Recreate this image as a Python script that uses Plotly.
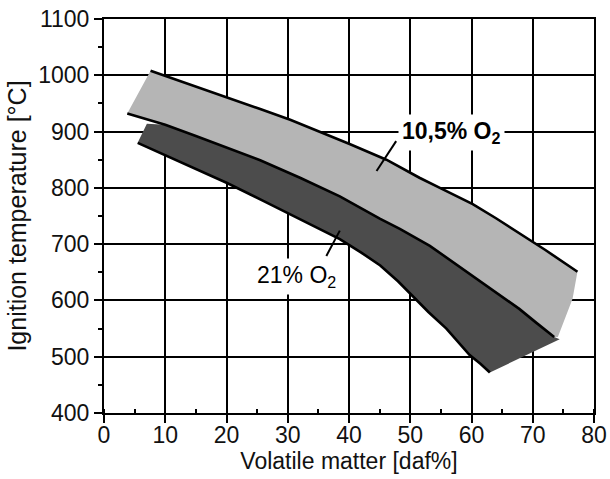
import plotly.graph_objects as go

# ---- data ----
# upper boundary of the 10,5% O2 band
upper105_x = [7.6, 14, 20, 25.5, 30.4, 35.3, 40.1, 46.1, 51.5, 55, 60.2, 64, 67.8, 72, 77.3]
upper105_y = [1008, 984, 961, 940, 921, 900, 878, 850, 818, 799, 771, 746, 720, 690, 651]
# right edge of the 10,5% band
light_edge_x = [76.5, 74.1]
light_edge_y = [603, 535]
# boundary between the two bands (lower 10,5% / upper 21%)
middle_x = [3.8, 10, 15, 22.2, 25.5, 32, 38.5, 45.1, 48.3, 53.2, 57, 61.3, 64.5, 67.8, 70.5, 73.5]
middle_y = [932, 912, 892, 862, 849, 818, 785, 745, 727, 697, 668, 636, 611, 585, 561, 535]
# upper-left corner of the 21% band and its right corner
dark_left_x = [7.0]
dark_left_y = [914]
dark_edge_x = [74.4]
dark_edge_y = [531]
# lower boundary of the 21% O2 band
lower21_x = [5.5, 12, 20, 26, 30, 34, 38.5, 42, 45.1, 48, 50.5, 53, 55.9, 58, 59.7, 61.5, 63]
lower21_y = [880, 848, 809, 777, 755, 733, 709, 685, 662, 634, 606, 579, 550, 524, 503, 487, 472]

# labels and their pointer lines
label105_text = "<b>10,5% O<sub>2</sub></b>"
label105_pos = (56.7, 899)
pointer105_x = [47.7, 44.5]
pointer105_y = [883, 830]
label21_text = "21% O<sub>2</sub>"
label21_pos = (31.4, 642)
pointer21_x = [38.5, 36.3]
pointer21_y = [724, 679]

x_ticks = [0, 10, 20, 30, 40, 50, 60, 70, 80]
y_ticks = [400, 500, 600, 700, 800, 900, 1000, 1100]

LIGHT = "#b5b5b5"
DARK = "#4c4c4c"
FONT = "Liberation Sans, Arial, sans-serif"

fig = go.Figure()

# dark (21% O2) band polygon
dm = [(x, y) for x, y in zip(middle_x, middle_y) if x > dark_left_x[0]]
dark_px = dark_left_x + [p[0] for p in dm] + dark_edge_x + lower21_x[::-1]
dark_py = dark_left_y + [p[1] for p in dm] + dark_edge_y + lower21_y[::-1]
fig.add_trace(go.Scatter(x=dark_px, y=dark_py, fill="toself", fillcolor=DARK,
                         mode="lines", line=dict(width=0), hoverinfo="skip"))

# light (10,5% O2) band polygon
light_px = upper105_x + light_edge_x + middle_x[::-1]
light_py = upper105_y + light_edge_y + middle_y[::-1]
fig.add_trace(go.Scatter(x=light_px, y=light_py, fill="toself", fillcolor=LIGHT,
                         mode="lines", line=dict(width=0), hoverinfo="skip"))

# black boundary curves
for xs, ys in [(upper105_x, upper105_y), (middle_x, middle_y), (lower21_x, lower21_y)]:
    fig.add_trace(go.Scatter(x=xs, y=ys, mode="lines",
                             line=dict(color="black", width=2.6),
                             hoverinfo="skip"))

# pointer lines
for xs, ys in [(pointer105_x, pointer105_y), (pointer21_x, pointer21_y)]:
    fig.add_trace(go.Scatter(x=xs, y=ys, mode="lines",
                             line=dict(color="black", width=2), hoverinfo="skip"))

fig.add_annotation(x=label105_pos[0], y=label105_pos[1], text=label105_text,
                   showarrow=False, bgcolor="white", borderpad=3,
                   font=dict(family=FONT, size=23, color="black"))
fig.add_annotation(x=label21_pos[0], y=label21_pos[1], text=label21_text,
                   showarrow=False, bgcolor="white", borderpad=3,
                   font=dict(family=FONT, size=23, color="black"))

axis_common = dict(
    showgrid=True, gridcolor="black", gridwidth=2,
    showline=True, linecolor="black", linewidth=2, mirror=True,
    zeroline=False, ticks="outside", ticklen=8, tickwidth=2, tickcolor="black",
    tickfont=dict(family=FONT, size=23, color="#111"),
    automargin=False,
)

fig.update_layout(
    width=610, height=479,
    margin=dict(l=104, r=16, t=19, b=66),
    paper_bgcolor="white", plot_bgcolor="white",
    showlegend=False,
    font=dict(family=FONT, color="#111"),
    xaxis=dict(range=[0, 80], tickvals=x_ticks, **axis_common,
               ticklabelstandoff=-8,
               minor=dict(dtick=5, ticks="inside", ticklen=4, tickwidth=2,
                          tickcolor="black", showgrid=False),
               title=dict(text="Volatile matter [daf%]", standoff=0,
                          font=dict(family=FONT, size=23, color="#111"))),
    yaxis=dict(range=[400, 1100], tickvals=y_ticks, **axis_common,
               minor=dict(dtick=50, ticks="outside", ticklen=4, tickwidth=2,
                          tickcolor="black", showgrid=False),
               title=dict(text="Ignition temperature [°C]", standoff=4,
                          font=dict(family=FONT, size=25, color="#111"))),
)

# remove the default page margin so the figure fills the window exactly
fig.write_html("out.html",
               config={"displayModeBar": False},
               post_script="document.body.style.margin='0';document.body.style.overflow='hidden';")
